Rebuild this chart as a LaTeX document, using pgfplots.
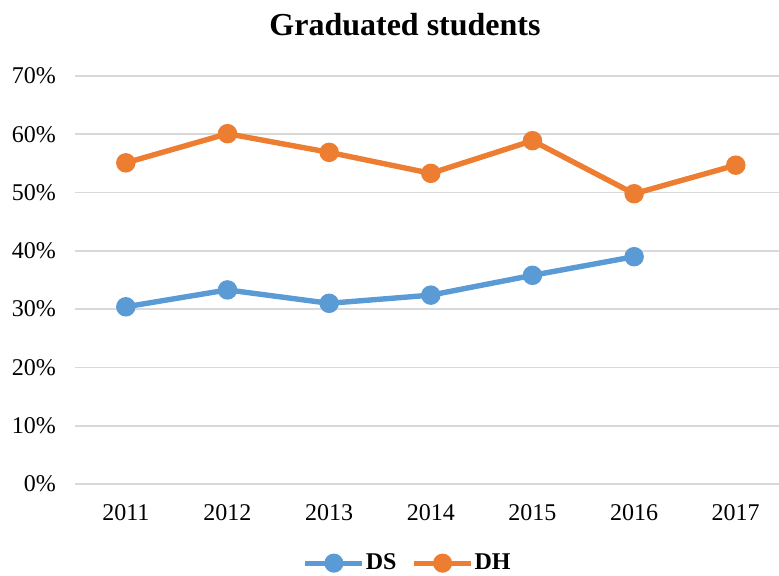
\documentclass[border=0pt]{standalone}
\usepackage{pgfplots}
\pgfplotsset{compat=1.18}
\usepackage{fontspec}
\setmainfont{Liberation Serif}
\definecolor{dsblue}{HTML}{5B9BD5}
\definecolor{dhorange}{HTML}{ED7D31}
\definecolor{gridgray}{HTML}{D9D9D9}
\begin{document}
\begin{tikzpicture}
\useasboundingbox (0,0) rectangle (389.5pt,288pt);
\node[font=\bfseries\fontsize{16}{18}\selectfont] at (202.5pt,275.5pt) {Graduated students};
\begin{axis}[
  at={(37.5pt,46pt)}, anchor=south west,
  scale only axis, width=355.8pt, height=204pt,
  xmin=2010.5, xmax=2017.5, ymin=0, ymax=70,
  xtick={2011,...,2017},
  xticklabels={2011,2012,2013,2014,2015,2016,2017},
  ytick={0,10,...,70},
  yticklabel={\pgfmathprintnumber{\tick}\%},
  /pgf/number format/assume math mode=true,
  tick label style={font=\fontsize{12}{14}\selectfont, text=black},
  xticklabel style={yshift=-6.5pt},
  yticklabel style={xshift=-6pt},
  axis line style={draw=none},
  major tick length=0pt,
  ymajorgrids, grid style={gridgray, line width=0.8pt},
  legend columns=2,
  legend style={at={(0.469,-0.194)}, anchor=center, draw=none, fill=none,
    font=\bfseries\fontsize{12}{14}\selectfont,
    /tikz/every odd column/.append style={column sep=-1.5pt},
    /tikz/every even column/.append style={column sep=5.5pt}},
  legend image code/.code={
    \draw[#1, line width=2.5pt] (0pt,0pt) -- (28.5pt,0pt);
    \fill[#1] (14.25pt,0pt) circle (3.4pt);
  },
]
\addplot[dsblue, line width=2.7pt, mark=*, mark size=3.5pt, mark options={fill=dsblue, draw=none}]
  coordinates {(2011,30.4) (2012,33.3) (2013,31.0) (2014,32.4) (2015,35.8) (2016,39.0)};
\addlegendentry{DS}
\addplot[dhorange, line width=2.7pt, mark=*, mark size=3.5pt, mark options={fill=dhorange, draw=none}]
  coordinates {(2011,55.1) (2012,60.1) (2013,56.9) (2014,53.3) (2015,58.9) (2016,49.8) (2017,54.7)};
\addlegendentry{DH}
\end{axis}
\end{tikzpicture}
\end{document}
